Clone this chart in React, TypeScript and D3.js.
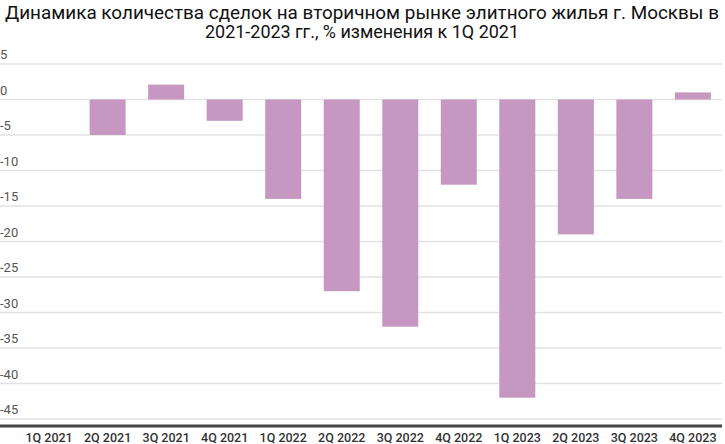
import React from "react";
import * as d3 from "d3";

const categories = ["1Q 2021","2Q 2021","3Q 2021","4Q 2021","1Q 2022","2Q 2022","3Q 2022","4Q 2022","1Q 2023","2Q 2023","3Q 2023","4Q 2023"];
const values = [0, -5, 2.1, -3, -14, -27, -32, -12, -42, -19, -14, 1];
const yTicks = [5, 0, -5, -10, -15, -20, -25, -30, -35, -40, -45];
const titleLines = ["Динамика количества сделок на вторичном рынке элитного жилья г. Москвы в", "2021-2023 гг., % изменения к 1Q 2021"];

const W = 725, H = 444;

export default function App() {
  const x = d3.scaleBand<string>().domain(categories).range([20, 722]).paddingInner(0.385).paddingOuter(0.19);
  const y = d3.scaleLinear().domain([5, -45]).range([64, 419]);
  const color = "#c597c1";
  return (
    <div style={{ position: "fixed", left: 0, top: 0 }}>
      <svg width={W} height={H} style={{ display: "block", fontFamily: "Roboto, sans-serif" }}>
        <rect width={W} height={H} fill="#fff" />
        <text x={362} y={19} textAnchor="middle" fontSize={18} fill="#111" textLength={714} lengthAdjust="spacingAndGlyphs">{titleLines[0]}</text>
        <text x={362} y={38} textAnchor="middle" fontSize={18} fill="#111" textLength={314} lengthAdjust="spacingAndGlyphs">{titleLines[1]}</text>
        {yTicks.map(t => (
          <g key={t}>
            <line x1={0} x2={722} y1={y(t)} y2={y(t)} stroke="#e2e2e2" strokeWidth={1.5} />
            <text x={0} y={y(t) - 5} fontSize={13} fill="#555">{t}</text>
          </g>
        ))}
        {categories.map((c, i) => {
          const v = values[i];
          const y0 = y(0), y1 = y(v);
          return (
            <rect key={c} x={x(c)} width={x.bandwidth()} y={Math.min(y0, y1)} height={Math.abs(y1 - y0)} fill={color} />
          );
        })}
        <line x1={0} x2={722} y1={y(-46)} y2={y(-46)} stroke="#444" strokeWidth={3} />
        {categories.map(c => (
          <text key={c} x={(x(c) as number) + x.bandwidth() / 2} y={442} textAnchor="middle" fontSize={12.5} fontWeight={500} fill="#333">{c}</text>
        ))}
      </svg>
    </div>
  );
}
